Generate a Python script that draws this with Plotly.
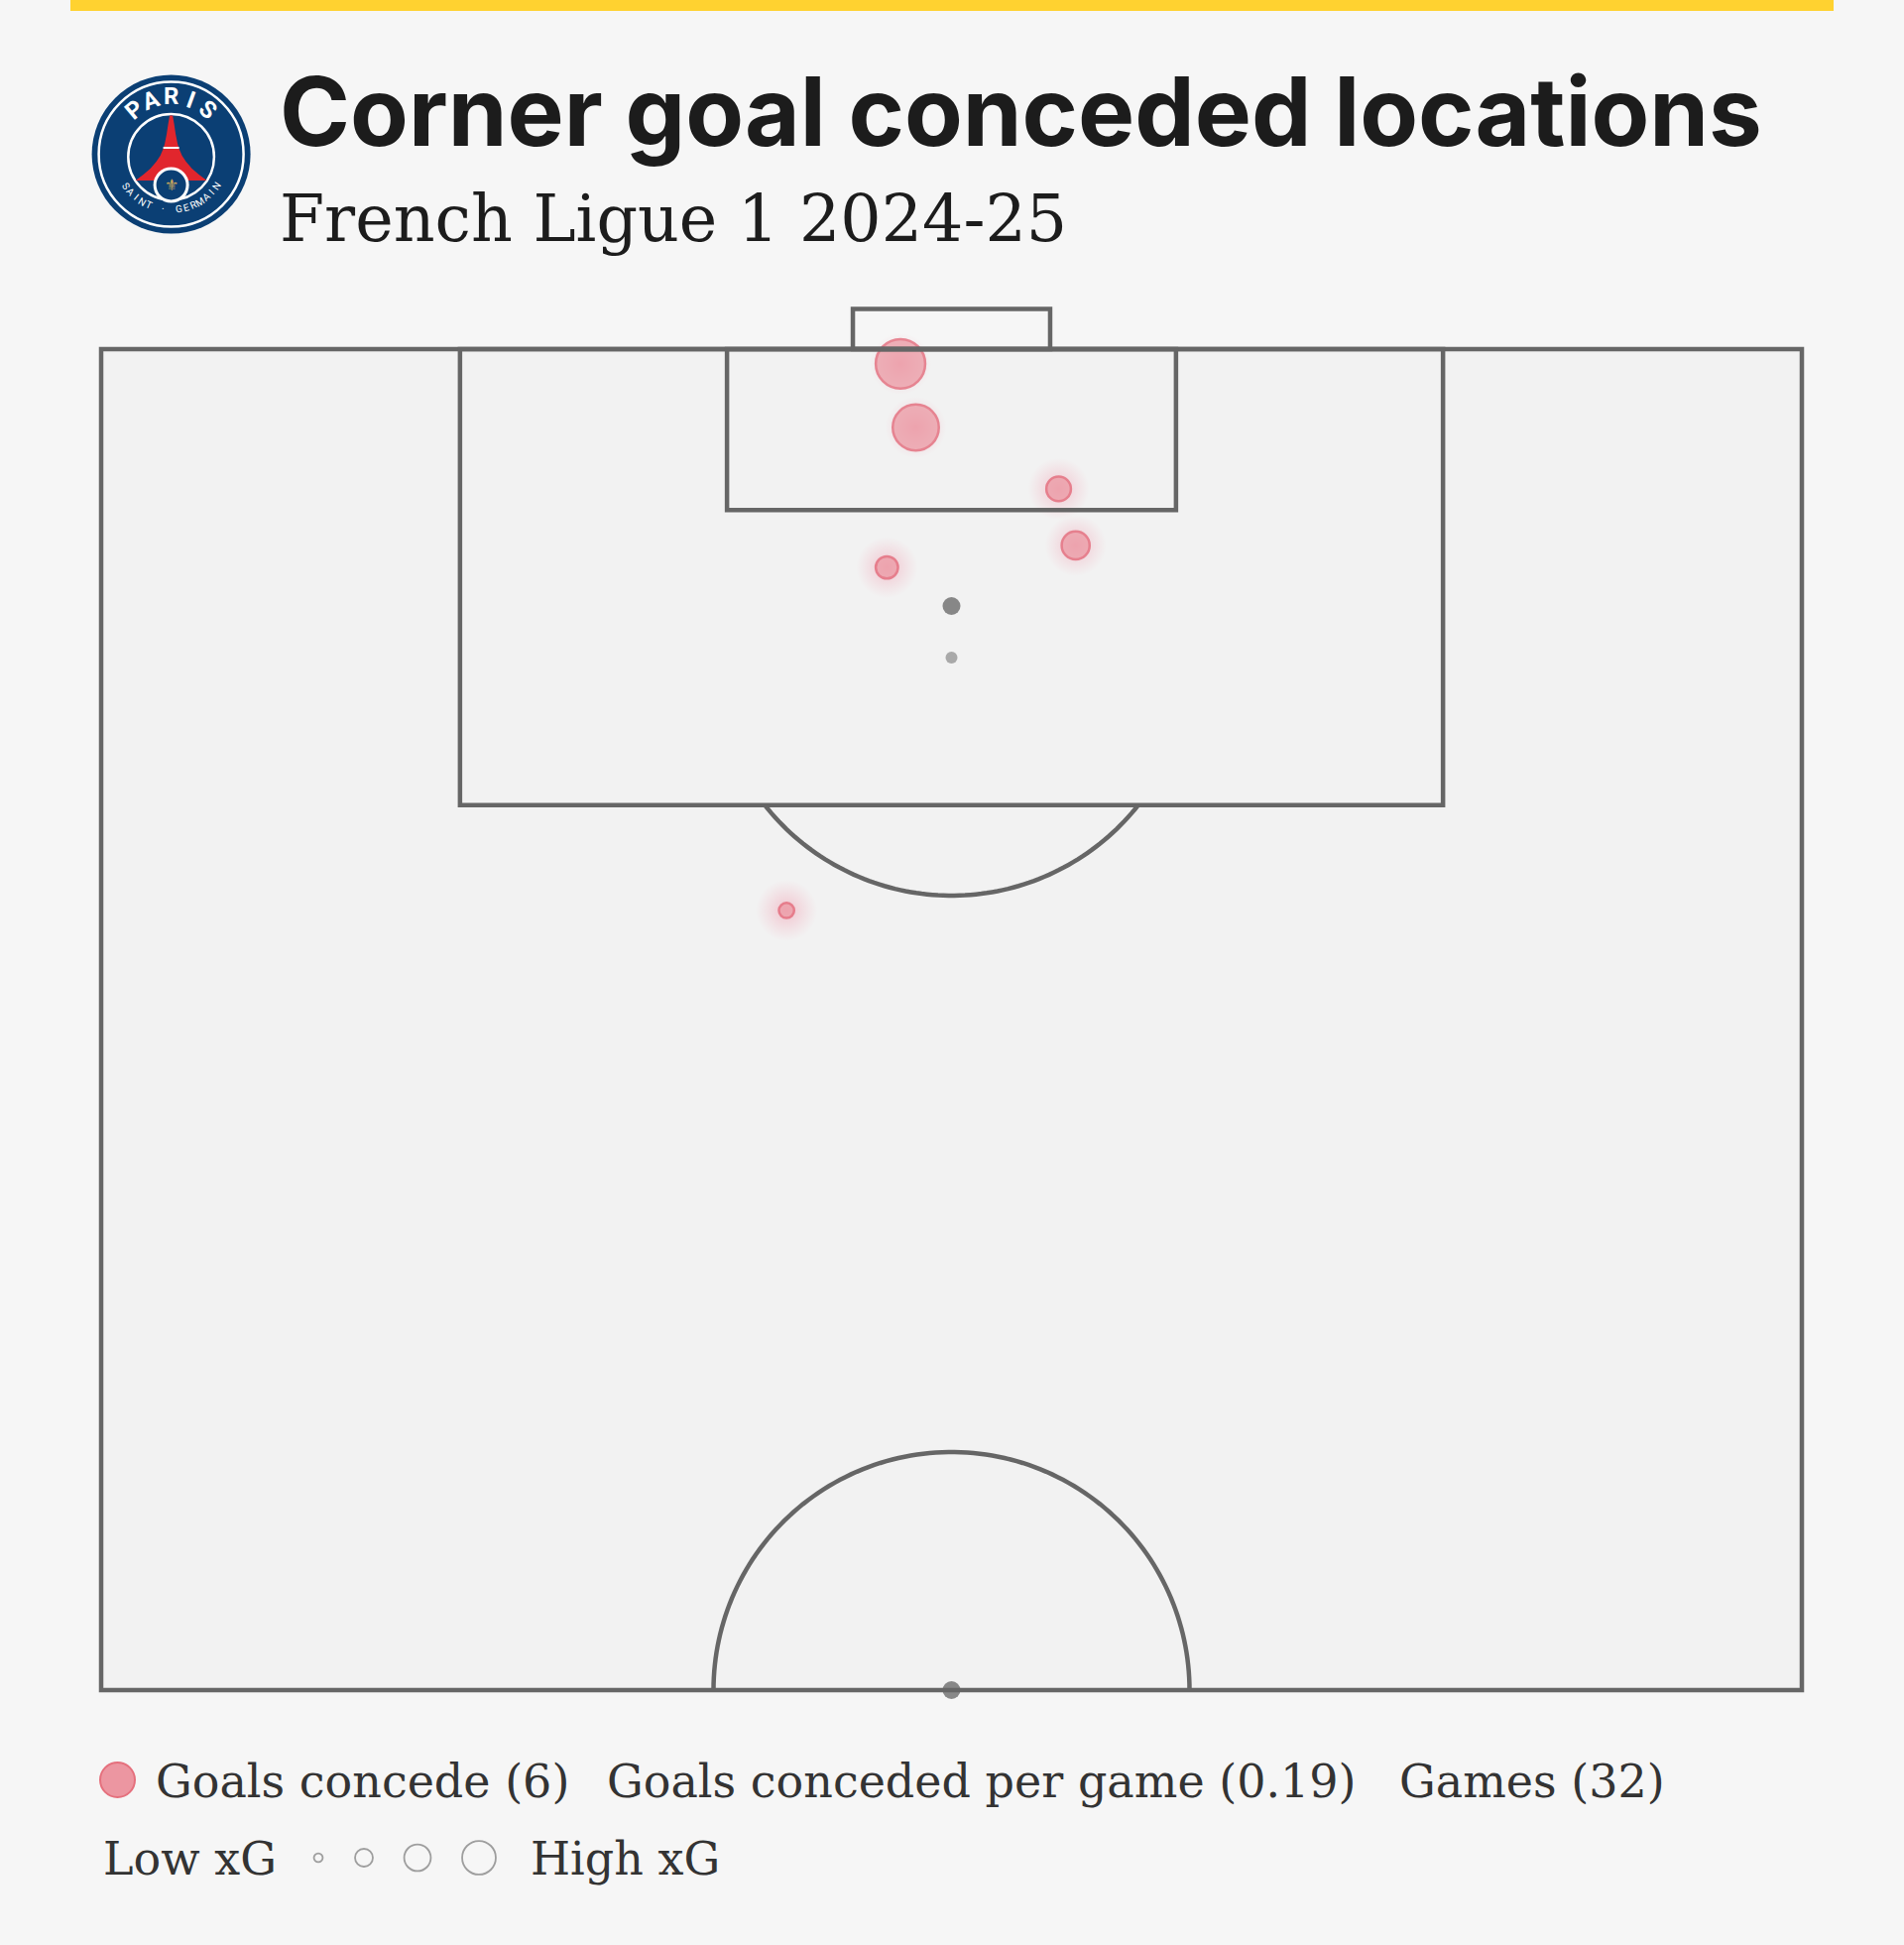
import numpy as np
import plotly.graph_objects as go

# ---------------- data ----------------
goal_across = [47.0, 47.9, 56.3, 57.3, 46.2, 40.3]      # 0 = left touchline, 100 = right
goal_along = [99.45, 97.08, 94.79, 92.68, 91.86, 79.07]  # 100 = goal line, 50 = halfway line
goal_xg = [0.69, 0.60, 0.17, 0.22, 0.14, 0.065]
legend_xg = [0.022, 0.09, 0.20, 0.32]
goals_conceded = 6
games_played = 32
goals_per_game = 0.19

title_text = "Corner goal conceded locations"
subtitle_text = "French Ligue 1 2024-25"
legend_goals = "Goals concede ({})".format(goals_conceded)
legend_per_game = "Goals conceded per game ({:.2f})".format(goals_per_game)
legend_games = "Games ({})".format(games_played)

# ---------------- layout geometry ----------------
W, H = 1920, 1961
PX0, PX1 = 102.0, 1817.0
PY_GOAL, PY_HALF = 352.0, 1704.0
SX = (PX1 - PX0) / 100.0
SY = (PY_HALF - PY_GOAL) / 50.0


def ax(px):
    return (px - PX0) / SX


def al(py):
    return 100.0 - (py - PY_GOAL) / SY


def pxp(px):
    return px / W


def pyp(py):
    return 1.0 - py / H


def xg_size(v):
    return 60.0 * np.sqrt(np.asarray(v, dtype=float))


LINE = "#666666"
LW = 4.5
BG = "#F6F6F6"
PITCH = "#F2F2F2"
SERIF = "DejaVu Serif"
GOAL_FILL = "#EC96A1"
GOAL_EDGE = "#E25A6C"

fig = go.Figure()

# glow under each goal (radial gradient: gradient.color is the centre colour)
fig.add_trace(go.Scatter(
    x=goal_across, y=goal_along, mode="markers", hoverinfo="skip",
    marker=dict(size=62, color="rgba(242,150,170,0)",
                gradient=dict(type="radial", color="rgba(240,130,155,0.42)"),
                line=dict(width=0)),
    showlegend=False))

# goals
fig.add_trace(go.Scatter(
    x=goal_across, y=goal_along, mode="markers",
    marker=dict(size=xg_size(goal_xg), color=GOAL_FILL,
                line=dict(color=GOAL_EDGE, width=2.5)),
    showlegend=False))

# penalty spot / centre spot
fig.add_trace(go.Scatter(
    x=[50, 50, 50], y=[al(611), 88.5, 50], mode="markers", hoverinfo="skip",
    marker=dict(size=[18, 12, 18], color=["#5a5a5a", "#8a8a8a", "#5a5a5a"], line=dict(width=0)),
    showlegend=False))

# legend markers
fig.add_trace(go.Scatter(
    x=[ax(118.5)], y=[al(1794.5)], mode="markers", hoverinfo="skip",
    marker=dict(size=35, color=GOAL_FILL, line=dict(color="#E5707D", width=2)),
    showlegend=False))
fig.add_trace(go.Scatter(
    x=[ax(p) for p in (321, 367, 421, 483)], y=[al(1873)] * 4, mode="markers", hoverinfo="skip",
    marker=dict(size=xg_size(legend_xg), color="rgba(0,0,0,0)", line=dict(color="#7a7a7a", width=1.8)),
    showlegend=False))

shapes = []
# yellow top bar
shapes.append(dict(type="rect", xref="paper", yref="paper", x0=pxp(71), x1=pxp(1849),
                   y0=pyp(11), y1=pyp(0), fillcolor="#FFD230", line=dict(width=0), layer="below"))
# pitch fill
shapes.append(dict(type="rect", xref="x", yref="y", x0=0, x1=100, y0=50, y1=100,
                   fillcolor=PITCH, line=dict(width=0), layer="below"))


def rect(x0, x1, y0, y1):
    shapes.append(dict(type="rect", xref="x", yref="y", x0=x0, x1=x1, y0=y0, y1=y1,
                       line=dict(color=LINE, width=LW), layer="above"))


rect(0, 100, 50, 100)          # half pitch
rect(21.1, 78.9, 83, 100)      # penalty area
rect(36.8, 63.2, 94.0, 100)    # six-yard box
rect(44.2, 55.8, 100, 101.5)   # goal

R_PX = 240.0
rx, ry = R_PX / SX, R_PX / SY


def path_from(xs, ys):
    return "M " + " L ".join("{:.4f},{:.4f}".format(a, b) for a, b in zip(xs, ys))


# penalty arc
t0 = np.arcsin((83 - 88.5) / ry)
t = np.linspace(np.pi - t0, 2 * np.pi + t0, 80)
shapes.append(dict(type="path", xref="x", yref="y",
                   path=path_from(50 + rx * np.cos(t), 88.5 + ry * np.sin(t)),
                   line=dict(color=LINE, width=LW), layer="above"))
# centre circle
t = np.linspace(0, np.pi, 120)
shapes.append(dict(type="path", xref="x", yref="y",
                   path=path_from(50 + rx * np.cos(t), 50 + ry * np.sin(t)),
                   line=dict(color=LINE, width=LW), layer="above"))

# ---------------- crest ----------------
CX, CY = 172.6, 155.5


def pcircle(cx, cy, r, fill=None, lc=None, lw=0):
    shapes.append(dict(type="circle", xref="paper", yref="paper",
                       x0=pxp(cx - r), x1=pxp(cx + r), y0=pyp(cy + r), y1=pyp(cy - r),
                       fillcolor=fill if fill else "rgba(0,0,0,0)",
                       line=dict(color=lc if lc else "rgba(0,0,0,0)", width=lw), layer="above"))


pcircle(CX, CY, 80, fill="#0B3F74")
pcircle(CX, CY, 73, lc="white", lw=2.5)
pcircle(CX, 158.3, 43.3, lc="white", lw=2.5)

tower_y = [116.5, 125, 135, 145, 150, 157, 163, 170, 176, 182]
tower_hw = [1.5, 3, 4.5, 6.5, 8, 11, 15, 21, 28, 36]
xs = [CX + w for w in tower_hw] + [CX - w for w in tower_hw[::-1]]
ys = tower_y + tower_y[::-1]
tpath = "M " + " L ".join("{:.5f},{:.5f}".format(pxp(a), pyp(b)) for a, b in zip(xs, ys)) + " Z"
shapes.append(dict(type="path", xref="paper", yref="paper", path=tpath,
                   fillcolor="#E1262D", line=dict(width=0), layer="above"))
shapes.append(dict(type="line", xref="paper", yref="paper", x0=pxp(CX - 8), x1=pxp(CX + 8),
                   y0=pyp(149), y1=pyp(149), line=dict(color="white", width=2), layer="above"))
pcircle(CX, 186.5, 18, fill="white")
pcircle(CX, 186.5, 15, fill="#0B3F74")

annotations = []
for i, ch in enumerate("PARIS"):
    th = 230 + 20 * i
    r = 58
    annotations.append(dict(xref="paper", yref="paper",
                            x=pxp(CX + r * np.cos(np.radians(th))), y=pyp(CY + r * np.sin(np.radians(th))),
                            text=ch, showarrow=False, textangle=th - 270,
                            xanchor="center", yanchor="middle",
                            font=dict(family="Roboto", size=24, weight=700, color="white")))
bottom = "SAINT · GERMAIN"
angs = np.linspace(145, 35, len(bottom))
for ch, th in zip(bottom, angs):
    if ch == " ":
        continue
    r = 56
    annotations.append(dict(xref="paper", yref="paper",
                            x=pxp(CX + r * np.cos(np.radians(th))), y=pyp(CY + r * np.sin(np.radians(th))),
                            text=ch, showarrow=False, textangle=th - 90,
                            xanchor="center", yanchor="middle",
                            font=dict(family="Roboto", size=10, color="white")))
annotations.append(dict(xref="paper", yref="paper", x=pxp(CX), y=pyp(187), text="⚜", showarrow=False,
                        xanchor="center", yanchor="middle",
                        font=dict(family="DejaVu Sans", size=16, color="#C9A55C")))


# ---------------- titles ----------------
def label(px, py_center, text, size, family, color, weight=400):
    annotations.append(dict(xref="paper", yref="paper", x=pxp(px), y=pyp(py_center), text=text,
                            showarrow=False, xanchor="left", yanchor="middle",
                            font=dict(family=family, size=size, color=color, weight=weight)))


label(280, 146 - 0.35 * 96, title_text, 96, "Inter", "#1c1c1c", 700)
label(280, 243 - 0.35 * 65, subtitle_text, 65, SERIF, "#1c1c1c")
label(155, 1812 - 0.35 * 46, legend_goals, 46, SERIF, "#333333")
label(610, 1812 - 0.35 * 46, legend_per_game, 46, SERIF, "#333333")
label(1409, 1812 - 0.35 * 46, legend_games, 46, SERIF, "#333333")
label(102, 1890 - 0.35 * 46, "Low xG", 46, SERIF, "#333333")
label(533, 1890 - 0.35 * 46, "High xG", 46, SERIF, "#333333")

fig.update_layout(
    width=W, height=H, margin=dict(l=0, r=0, t=0, b=0),
    paper_bgcolor=BG, plot_bgcolor=BG,
    xaxis=dict(range=[ax(0), ax(W)], domain=[0, 1], visible=False, fixedrange=True),
    yaxis=dict(range=[al(H), al(0)], domain=[0, 1], visible=False, fixedrange=True),
    shapes=shapes, annotations=annotations, showlegend=False,
)

fig.write_html("out.html", config={"displayModeBar": False},
               post_script="document.body.style.margin='0px';")
